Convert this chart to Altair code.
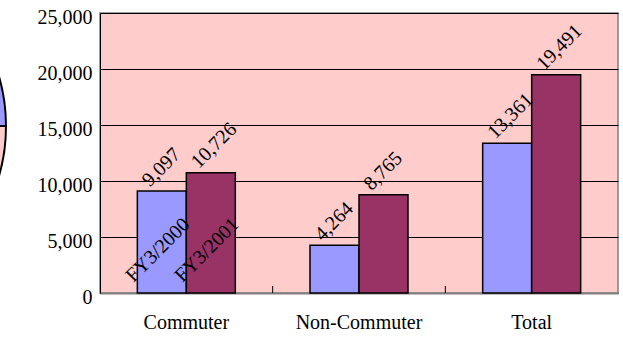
import altair as alt
import pandas as pd

categories = ["Commuter", "Non-Commuter", "Total"]
series = ["FY3/2000", "FY3/2001"]
fy2000 = [9097, 4264, 13361]
fy2001 = [10726, 8765, 19491]
series_colors = ["#9999FF", "#993366"]
y_ticks = [0, 5000, 10000, 15000, 20000, 25000]

pie_values = [25, 35, 40]
pie_colors = ["#9999FF", "#FFCCCC", "#FFFFFF"]

rows = []
for c, a, b in zip(categories, fy2000, fy2001):
    rows.append({"category": c, "series": series[0], "value": a})
    rows.append({"category": c, "series": series[1], "value": b})
df = pd.DataFrame(rows)

name_df = pd.DataFrame({"category": [categories[0]] * 2, "series": series, "value": [0, 0]})
tick_df = pd.DataFrame({"category": categories[1:]})
pie_df = pd.DataFrame({"v": pie_values, "color": pie_colors, "k": list(range(len(pie_values)))})

FONT = "Liberation Serif"

x_axis = alt.Axis(title=None, ticks=False, labelPadding=19, labelAngle=0,
                  labelFont=FONT, labelFontSize=20, labelColor="black",
                  domainColor="#808080", domainWidth=2)
x_scale = alt.Scale(paddingInner=0, paddingOuter=0)
x_enc = alt.X("category:N", sort=categories, scale=x_scale, axis=x_axis)
xo_enc = alt.XOffset("series:N", sort=series,
                     scale=alt.Scale(paddingInner=0, paddingOuter=0.762))
y_enc = alt.Y("value:Q", scale=alt.Scale(domain=[0, 25000], nice=False),
              axis=alt.Axis(title=None, values=y_ticks,
                            labelExpr="format(datum.value, ',')", ticks=False,
                            labelPadding=8, labelOffset=4, labelFont=FONT,
                            labelFontSize=20, labelColor="black",
                            domainColor="black", domainWidth=1,
                            grid=True, gridColor="black", gridWidth=1, gridOpacity=1))

bars = alt.Chart(df).mark_bar(stroke="black", strokeWidth=1.5).encode(
    x=x_enc, xOffset=xo_enc, y=y_enc,
    color=alt.Color("series:N", scale=alt.Scale(domain=series, range=series_colors), legend=None),
)

values_text = alt.Chart(df).mark_text(
    angle=315, align="left", baseline="alphabetic", dx=-6, dy=-11,
    font=FONT, fontSize=20, color="black",
).encode(x=x_enc, xOffset=xo_enc, y=y_enc, text=alt.Text("value:Q", format=","))

names_text = alt.Chart(name_df).mark_text(
    angle=315, align="left", baseline="alphabetic", dx=-13, dy=-27,
    font=FONT, fontSize=20, color="black",
).encode(x=x_enc, xOffset=xo_enc, y=y_enc, text="series:N")

ticks = alt.Chart(tick_df).mark_rule(color="black", strokeWidth=1).encode(
    x=alt.X("category:N", sort=categories, bandPosition=0, scale=x_scale, axis=x_axis),
    y=alt.value(273), y2=alt.value(280),
)

pie = alt.Chart(pie_df).mark_arc(radius=179, stroke="black", strokeWidth=2).encode(
    theta=alt.Theta("v:Q", stack=True),
    order=alt.Order("k:Q"),
    color=alt.Color("color:N", scale=None),
    x=alt.value(-273), y=alt.value(113),
)

chart = alt.layer(pie, bars, ticks, values_text, names_text).properties(
    width=518, height=280,
    autosize=alt.AutoSizeParams(type="none"),
    padding={"left": 100, "top": 13, "right": 5, "bottom": 45},
    background="white",
).configure_view(
    fill="#FFCCCC", stroke="#808080", strokeWidth=1.5,
)

chart.save("out.html", embed_options={"renderer": "svg", "actions": False})
